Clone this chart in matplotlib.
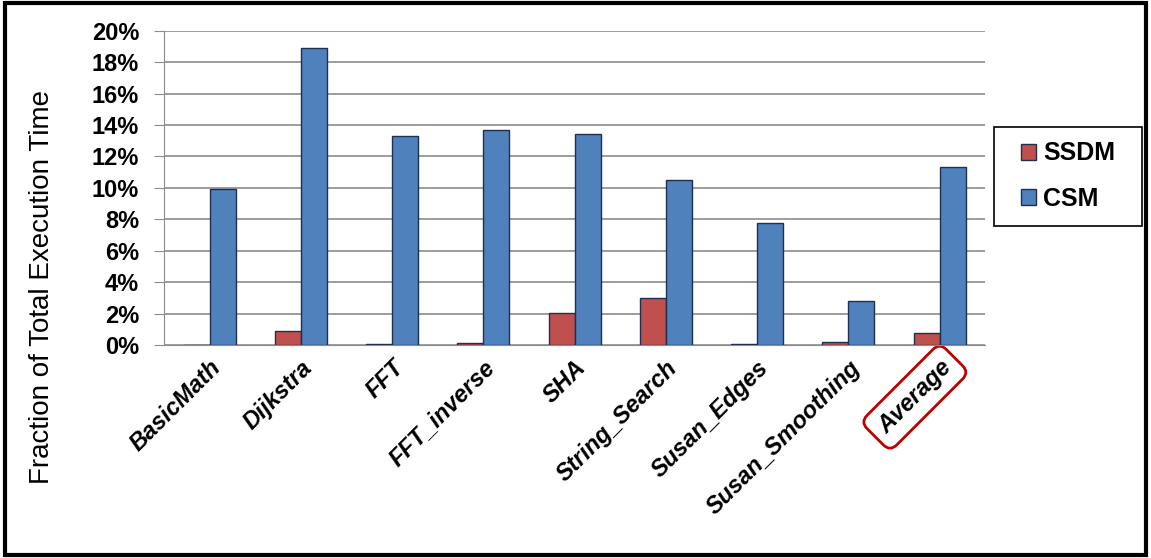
import numpy as np
import matplotlib
matplotlib.use("Agg")
from matplotlib import pyplot as plt
from matplotlib.patches import Rectangle
from matplotlib.ticker import FuncFormatter

plt.rcParams['font.family'] = ['Liberation Sans', 'DejaVu Sans']

# data (percent of total execution time)
benchmarks = ['BasicMath', 'Dijkstra', 'FFT', 'FFT_inverse', 'SHA',
              'String_Search', 'Susan_Edges', 'Susan_Smoothing', 'Average']
ssdm = [0.0, 0.9, 0.05, 0.15, 2.05, 2.97, 0.06, 0.21, 0.78]
csm = [9.95, 18.9, 13.3, 13.7, 13.45, 10.5, 7.75, 2.77, 11.3]
series_names = ['SSDM', 'CSM']
yticks = list(range(0, 21, 2))

red = '#C0504D'
blue = '#4F81BD'

W, H = 1151, 558
fig = plt.figure(figsize=(W / 100, H / 100), dpi=100)
ax = fig.add_axes([0.1425, 0.3817, 0.7135, 0.5633])

x = np.arange(len(benchmarks))
w = 0.285
ax.bar(x - w / 2, ssdm, w, color=red, edgecolor='#1F2F4F', linewidth=1, label=series_names[0], zorder=3)
ax.bar(x + w / 2, csm, w, color=blue, edgecolor='#1F2F4F', linewidth=1, label=series_names[1], zorder=3)

ax.set_xlim(-0.5, len(benchmarks) - 0.5)
ax.set_ylim(0, 20)
ax.set_yticks(yticks)
ax.yaxis.set_major_formatter(FuncFormatter(lambda v, p: '%d%%' % v))
ax.grid(axis='y', color='#8C8C8C', linewidth=1.2, zorder=0)
for s in ['top', 'right']:
    ax.spines[s].set_visible(False)
ax.spines['left'].set_color('#8C8C8C')
ax.spines['bottom'].set_color('#8C8C8C')
ax.tick_params(axis='y', length=7, color='#8C8C8C', labelsize=17, pad=11)
ax.tick_params(axis='x', length=0, pad=8)
for lbl in ax.get_yticklabels():
    lbl.set_fontweight('bold')

ax.set_xticks(x)
ax.set_xticklabels(benchmarks, rotation=45, ha='right', rotation_mode='anchor',
                   fontsize=17, fontweight='bold', fontstyle='italic')
avg = ax.get_xticklabels()[-1]
avg.set_bbox(dict(boxstyle='round,pad=0.4', fc='white', ec='#C00000', lw=2))

# y label sits lower than the axes centre, as in the original
fig.text(42 / W, 1 - 287 / H, 'Fraction of Total Execution Time', rotation=90,
         fontsize=20, ha='center', va='center')

# legend: frame drawn separately to get the wide side padding
leg = ax.legend(loc='center', bbox_to_anchor=(1068 / W, 1 - 176 / H),
                bbox_transform=fig.transFigure, frameon=False,
                prop={'weight': 'bold', 'size': 18}, handlelength=0.6, handleheight=0.6,
                handletextpad=0.3, labelspacing=0.85, borderpad=0)
fig.patches.append(Rectangle((994 / W, 1 - 226 / H), 148 / W, 99 / H, transform=fig.transFigure,
                             fill=False, edgecolor='black', linewidth=1.2))

# outer black frame
fig.patches.append(Rectangle((0.004, 0.006), 0.992, 0.988, transform=fig.transFigure,
                             fill=False, edgecolor='black', linewidth=3))

fig.savefig('out.png', dpi=100)
